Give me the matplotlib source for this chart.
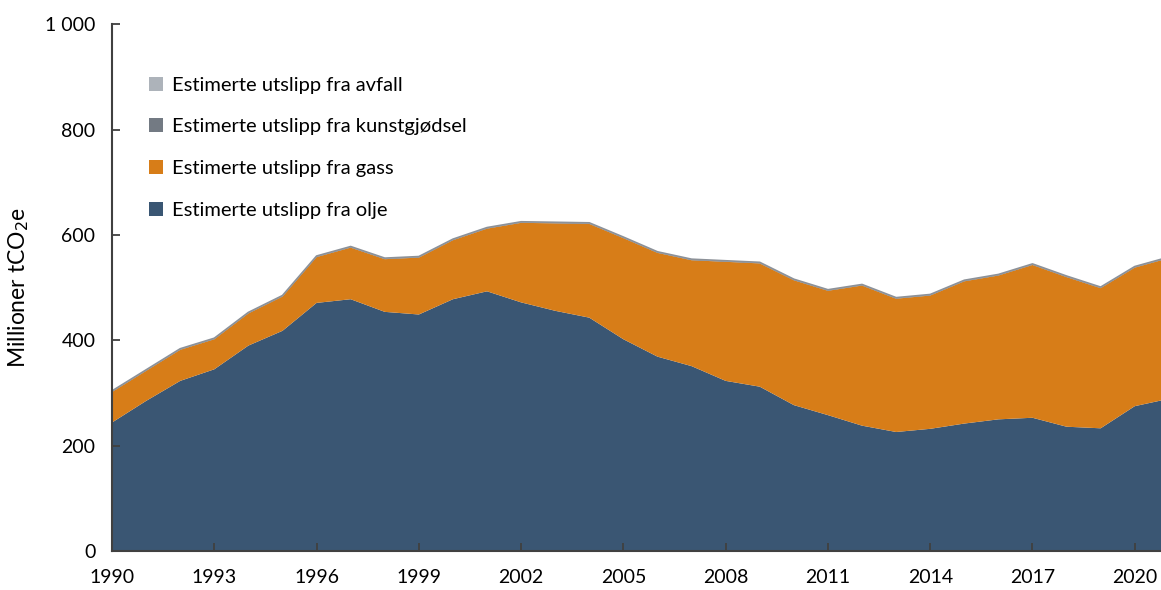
import matplotlib.pyplot as plt
from matplotlib.ticker import FuncFormatter

plt.rcParams['font.family'] = ['Lato', 'DejaVu Sans']

years = list(range(1990, 2022))
olje = [244, 285, 323, 345, 390, 418, 471, 478, 454, 449, 478, 493,
        472, 456, 443, 402, 369, 351, 323, 312, 277, 258, 238, 226,
        232, 242, 250, 253, 236, 233, 275, 289]
totalt = [304, 344, 384, 404, 453, 485, 560, 578, 556, 559, 592, 614,
          625, 624, 623, 596, 568, 554, 551, 548, 516, 496, 506, 481,
          487, 514, 525, 545, 522, 501, 540, 558]
kunstgjodsel = [1.2] * len(years)
avfall = [0.8] * len(years)
gass = [t - o - k - a for t, o, k, a in zip(totalt, olje, kunstgjodsel, avfall)]

labels = ["Estimerte utslipp fra olje", "Estimerte utslipp fra gass",
          "Estimerte utslipp fra kunstgjødsel", "Estimerte utslipp fra avfall"]
colors = ["#3A5673", "#D77D18", "#737A83", "#ADB3BA"]

fig = plt.figure(figsize=(11.61, 5.90), dpi=100)
ax = fig.add_axes([0.0965, 0.066, 0.9035, 0.893])

polys = ax.stackplot(years, olje, gass, kunstgjodsel, avfall,
                     colors=colors, labels=labels, linewidth=0)
ax.plot(years, totalt, color="#8C9198", lw=1.2)

ax.set_xlim(1990, 2020.77)
ax.set_ylim(0, 1000)
ax.set_xticks(range(1990, 2021, 3))
ax.set_yticks(range(0, 1001, 200))
ax.yaxis.set_major_formatter(FuncFormatter(lambda v, p: f"{int(v):,}".replace(",", " ")))

for s in ["top", "right"]:
    ax.spines[s].set_visible(False)
for s in ["left", "bottom"]:
    ax.spines[s].set_color("#404040")
    ax.spines[s].set_linewidth(1.5)
ax.spines["bottom"].set_zorder(5)

ax.tick_params(axis="both", direction="in", length=6, width=1.3,
               color="#404040", labelsize=14, labelcolor="black")
ax.tick_params(axis="x", pad=13)
ax.tick_params(axis="y", pad=12)

ax.set_ylabel("Millioner tCO$_2$e", fontsize=16.5, labelpad=10)

handles, labs = ax.get_legend_handles_labels()
ax.legend(handles[::-1], labs[::-1], loc="upper left", bbox_to_anchor=(0.018, 0.935),
          frameon=False, fontsize=14.5, handlelength=0.7, handleheight=0.7,
          handletextpad=0.45, labelspacing=1.22)

fig.savefig("out.png", dpi=100)
